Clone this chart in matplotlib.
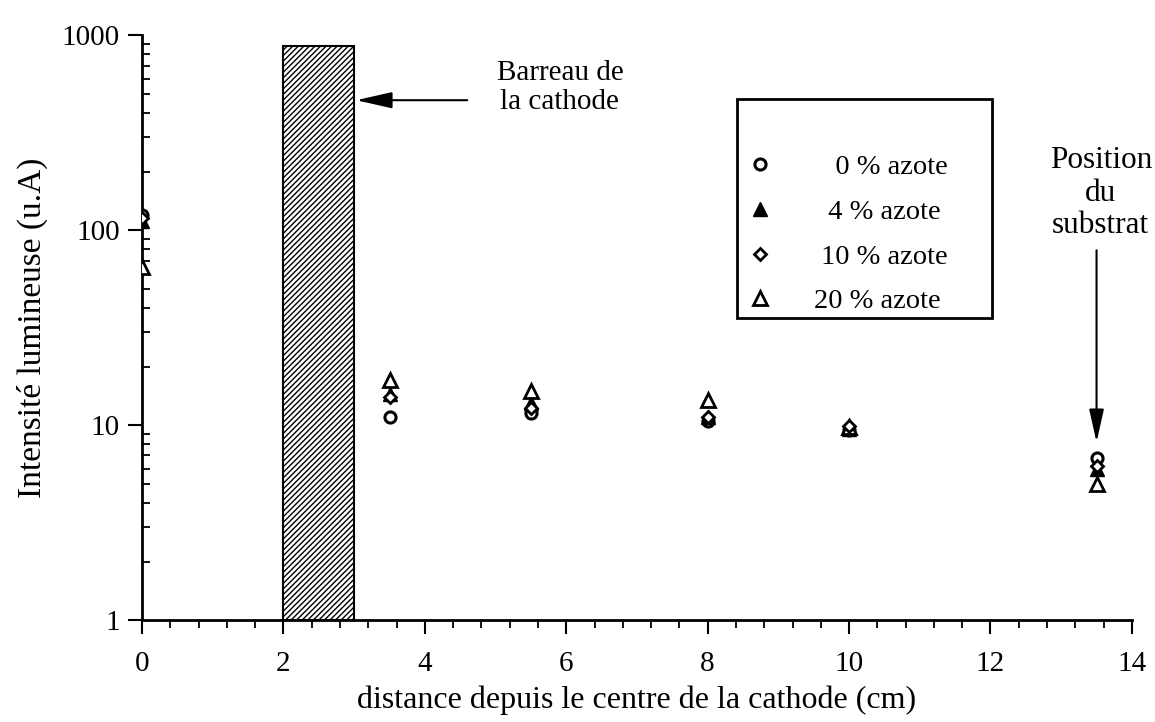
import numpy as np
import matplotlib
matplotlib.use("Agg")
import matplotlib.pyplot as plt
from matplotlib.patches import Rectangle
from matplotlib.ticker import AutoMinorLocator, LogLocator, NullFormatter

plt.rcParams['font.family'] = ['Liberation Serif', 'DejaVu Serif']
plt.rcParams['hatch.linewidth'] = 1.0

# distance from the cathode centre (cm)
distance = [0, 3.5, 5.5, 8, 10, 13.5]

# light intensity (a.u.) for each nitrogen fraction
azote_0 = [120, 11.0, 11.5, 10.5, 9.5, 6.8]
azote_4 = [112, 14.5, 13.0, 11.0, 9.6, 6.0]
azote_10 = [115, 14.0, 12.3, 11.0, 9.9, 6.2]
azote_20 = [65, 17.0, 15.0, 13.5, 9.8, 5.0]

series_labels = ['   0 % azote', '  4 % azote', ' 10 % azote', '20 % azote']

# cathode bar
bar_start, bar_end, bar_top = 2, 3, 880

fig = plt.figure(figsize=(11.55, 7.22), dpi=100)
ax = fig.add_axes([0.123, 0.141, 0.857, 0.810])

ax.bar(bar_start, bar_top - 1, width=bar_end - bar_start, bottom=1, align='edge',
       facecolor='white', edgecolor='black', hatch='//////', linewidth=1.5, zorder=2)

ax.plot(distance, azote_0, linestyle='none', marker='o', markersize=8,
        markerfacecolor='white', markeredgecolor='black', markeredgewidth=2.2,
        label=series_labels[0], zorder=3)
ax.plot(distance, azote_4, linestyle='none', marker='^', markersize=10,
        markerfacecolor='black', markeredgecolor='black',
        label=series_labels[1], zorder=3)
ax.plot(distance, azote_10, linestyle='none', marker='D', markersize=6,
        markerfacecolor='white', markeredgecolor='black', markeredgewidth=2,
        label=series_labels[2], zorder=4)
ax.plot(distance, azote_20, linestyle='none', marker='^', markersize=10,
        markerfacecolor='white', markeredgecolor='black', markeredgewidth=2,
        label=series_labels[3], zorder=3)

ax.set_yscale('log')
ax.set_xlim(0, 14)
ax.set_ylim(1, 1000)

ax.set_xticks(np.arange(0, 15, 2))
ax.xaxis.set_minor_locator(AutoMinorLocator(5))
ax.yaxis.set_minor_locator(LogLocator(base=10, subs=np.arange(2, 10), numticks=20))
ax.yaxis.set_minor_formatter(NullFormatter())
ax.set_yticks([1, 10, 100, 1000])
ax.set_yticklabels(['1', '10', '100', '1000'])

ax.tick_params(axis='x', which='major', direction='out', length=10, width=1.5,
               labelsize=21, pad=12)
ax.tick_params(axis='x', which='minor', direction='out', length=6, width=1.3)
ax.tick_params(axis='y', which='major', direction='out', length=10, width=1.5,
               labelsize=21, pad=6)
ax.tick_params(axis='y', which='minor', direction='in', length=6, width=1.3)

for side in ('top', 'right'):
    ax.spines[side].set_visible(False)
for side in ('left', 'bottom'):
    ax.spines[side].set_linewidth(2)

ax.set_xlabel('distance depuis le centre de la cathode (cm)', fontsize=23, labelpad=6)
ax.set_ylabel('Intensité lumineuse (u.A)', fontsize=24, labelpad=10)

# annotation pointing at the cathode bar
ax.annotate('', xy=(3.03, 465), xytext=(4.6, 465),
            arrowprops=dict(arrowstyle='-|>,head_length=2.2,head_width=0.5',
                            mutation_scale=10, color='black', lw=1.5,
                            shrinkA=0, shrinkB=0))
ax.text(5.91, 540, 'Barreau de\nla cathode', fontsize=21, ha='center', va='center',
        linespacing=1.17)

# annotation pointing at the substrate position
ax.annotate('', xy=(13.5, 8.2), xytext=(13.5, 79),
            arrowprops=dict(arrowstyle='-|>,head_length=2.0,head_width=0.45',
                            mutation_scale=10, color='black', lw=1.5,
                            shrinkA=0, shrinkB=0))
ax.text(13.56, 155, 'Position\ndu\nsubstrat', fontsize=22.5, ha='center', va='center',
        linespacing=1.15)

# legend entries, boxed by a separate frame
leg = ax.legend(loc='center left', bbox_to_anchor=(0.610, 0.660), fontsize=20.5,
                frameon=False, borderpad=0, labelspacing=0.66,
                handletextpad=1.4, handlelength=1.0, borderaxespad=0)
ax.add_patch(Rectangle((0.601, 0.516), 0.258, 0.376, transform=ax.transAxes,
                       facecolor='none', edgecolor='black', linewidth=2,
                       clip_on=False, zorder=5))

fig.savefig('out.png', dpi=100)
